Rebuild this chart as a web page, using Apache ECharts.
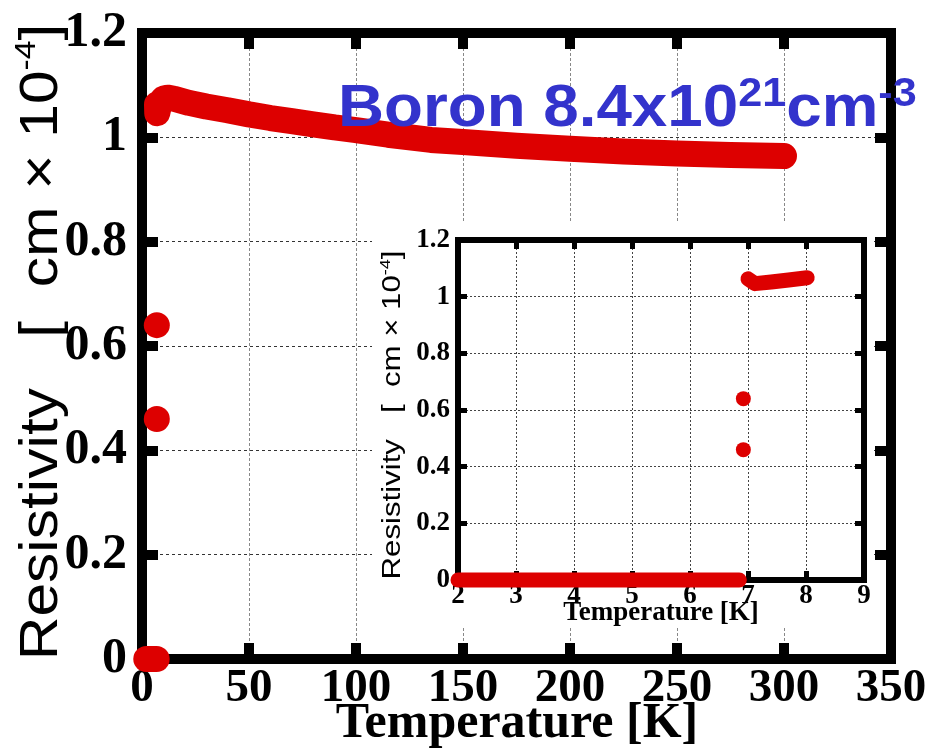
<!DOCTYPE html>
<html>
<head>
<meta charset="utf-8">
<script src="https://cdn.jsdelivr.net/npm/echarts@6/dist/echarts.min.js"></script>
<style>
  html, body { margin: 0; padding: 0; background: #fff; }
  #chart { width: 930px; height: 755px; }
</style>
</head>
<body>
<div id="chart"></div>
<script>
// Resistivity of a boron-doped sample vs temperature (units of 1e-4 ohm cm)

// superconducting state: zero resistance
const zeroT = [2.0, 3.0, 4.0, 5.0, 6.0, 6.85];
const zeroRho = [0, 0, 0, 0, 0, 0];

// points caught inside the transition
const transT = [6.92, 6.92];
const transRho = [0.46, 0.64];

// normal state, full warm-up sweep
const normalT = [7.0, 7.12, 7.6, 8.5, 10, 12, 15, 22, 30, 40, 50, 60, 70, 80, 90, 100,
                 115, 135, 150, 175, 200, 225, 250, 275, 300];
const normalRho = [1.063, 1.046, 1.055, 1.066, 1.074, 1.076, 1.074, 1.066, 1.059, 1.052,
                   1.044, 1.037, 1.031, 1.025, 1.019, 1.014, 1.005, 0.995, 0.991, 0.984,
                   0.978, 0.973, 0.969, 0.966, 0.964];

// normal state, low-temperature sweep shown in the inset
const lowT = [7.0, 7.12, 7.4, 7.7, 8.02];
const lowRho = [1.063, 1.046, 1.052, 1.059, 1.067];

// axis ranges and ticks
const mainX = { min: 0, max: 350, interval: 50 };
const insetX = { min: 2, max: 9, interval: 1 };
const rhoAxis = { min: 0, max: 1.2, interval: 0.2 };

const RED = '#dd0000';
const SERIF = '"Liberation Serif", "Times New Roman", serif';
const SANS = '"Liberation Sans", Arial, sans-serif';

const pairs = (xs, ys) => xs.map((x, i) => [x, ys[i]]);
const rhoFmt = v => String(+v.toFixed(1));

// one frame side: thick line plus inward ticks, labels added where needed
function axis(range, o) {
  return Object.assign({
    type: 'value',
    min: range.min, max: range.max, interval: range.interval,
    axisLine: { show: true, onZero: false, lineStyle: { color: '#000', width: o.lineWidth, cap: 'square' } },
    axisTick: { show: true, inside: true, length: o.tickLen, lineStyle: { color: '#000', width: o.tickWidth } },
    axisLabel: { show: false },
    splitLine: { show: false }
  }, o.extra || {});
}

const chart = echarts.init(document.getElementById('chart'), null, { renderer: 'canvas' });

const mainStyle = { lineWidth: 10, tickLen: 16, tickWidth: 10 };
const insetStyle = { lineWidth: 6, tickLen: 9, tickWidth: 5 };
const labelBase = { show: true, fontFamily: SERIF, fontWeight: 'bold', color: '#000' };

chart.setOption({
  animation: false,
  backgroundColor: '#fff',
  grid: [
    { left: 142, right: 39, top: 33, bottom: 96, show: false, containLabel: false, outerBoundsMode: 'none' },
    { left: 458, right: 66, top: 240, bottom: 175, show: true, borderWidth: 0,
      backgroundColor: '#fff', containLabel: false, outerBoundsMode: 'none', z: 3 }
  ],
  xAxis: [
    axis(mainX, Object.assign({ extra: {
      gridIndex: 0, position: 'bottom',
      axisLabel: Object.assign({ margin: 6, fontSize: 47 }, labelBase),
      splitLine: { show: true, lineStyle: { color: '#888', width: 1, type: [3, 2] } }
    } }, mainStyle)),
    axis(mainX, Object.assign({ extra: { gridIndex: 0, position: 'top' } }, mainStyle)),
    axis(insetX, Object.assign({ extra: {
      gridIndex: 1, position: 'bottom', z: 4,
      axisLabel: Object.assign({ margin: 3, fontSize: 27 }, labelBase),
      splitLine: { show: true, lineStyle: { color: '#444', width: 1, type: [2, 2] } }
    } }, insetStyle)),
    axis(insetX, Object.assign({ extra: { gridIndex: 1, position: 'top', z: 4 } }, insetStyle))
  ],
  yAxis: [
    axis(rhoAxis, Object.assign({ extra: {
      gridIndex: 0, position: 'left',
      axisLabel: Object.assign({ margin: 15, fontSize: 50, formatter: rhoFmt }, labelBase),
      splitLine: { show: true, lineStyle: { color: '#333', width: 1, type: [3, 3] } }
    } }, mainStyle)),
    axis(rhoAxis, Object.assign({ extra: { gridIndex: 0, position: 'right' } }, mainStyle)),
    axis(rhoAxis, Object.assign({ extra: {
      gridIndex: 1, position: 'left', z: 4,
      axisLabel: Object.assign({ margin: 8, fontSize: 27, formatter: rhoFmt }, labelBase),
      splitLine: { show: true, lineStyle: { color: '#444', width: 1, type: [2, 2] } }
    } }, insetStyle)),
    axis(rhoAxis, Object.assign({ extra: { gridIndex: 1, position: 'right', z: 4 } }, insetStyle))
  ],
  series: [
    // full range
    { type: 'line', xAxisIndex: 0, yAxisIndex: 0, data: pairs(zeroT, zeroRho), showSymbol: false, symbol: 'none',
      clip: false, z: 2, lineStyle: { color: RED, width: 26, cap: 'round', join: 'round' } },
    { type: 'scatter', xAxisIndex: 0, yAxisIndex: 0, data: pairs(transT, transRho), symbolSize: 26,
      clip: false, z: 2, itemStyle: { color: RED, opacity: 1 } },
    { type: 'line', xAxisIndex: 0, yAxisIndex: 0, data: pairs(normalT, normalRho), showSymbol: false, symbol: 'none',
      clip: false, z: 2, lineStyle: { color: RED, width: 26, cap: 'round', join: 'round' } },
    // inset, low temperature
    { type: 'line', xAxisIndex: 2, yAxisIndex: 2, data: pairs(zeroT, zeroRho), showSymbol: false, symbol: 'none',
      clip: false, z: 6, lineStyle: { color: RED, width: 15, cap: 'round', join: 'round' } },
    { type: 'scatter', xAxisIndex: 2, yAxisIndex: 2, data: pairs(transT, transRho), symbolSize: 15,
      clip: false, z: 6, itemStyle: { color: RED, opacity: 1 } },
    { type: 'line', xAxisIndex: 2, yAxisIndex: 2, data: pairs(lowT, lowRho), showSymbol: false, symbol: 'none',
      clip: false, z: 6, lineStyle: { color: RED, width: 15, cap: 'round', join: 'round' } }
  ],
  graphic: [
    // white panel behind the inset and its labels
    { type: 'rect', z: 1, silent: true, shape: { x: 372, y: 222, width: 500, height: 406 },
      style: { fill: '#fff' } },
    // main axis titles
    { type: 'text', z: 10, x: 517, y: 724,
      style: { text: 'Temperature [K]', font: 'bold 50px ' + SERIF, fill: '#000', align: 'center', verticalAlign: 'middle' } },
    { type: 'text', z: 10, x: 42, y: 342, rotation: Math.PI / 2, scaleX: 1.12,
      style: {
        text: '{a|Resistivity   [  cm × 10}{s|-4}{a|]}',
        align: 'center', verticalAlign: 'middle', fill: '#000',
        rich: {
          a: { fontFamily: SANS, fontSize: 54, lineHeight: 60, fill: '#000' },
          s: { fontFamily: SANS, fontSize: 30, lineHeight: 60, verticalAlign: 'top', fill: '#000' }
        }
      } },
    // inset axis titles
    { type: 'text', z: 10, x: 661, y: 613,
      style: { text: 'Temperature [K]', font: 'bold 27px ' + SERIF, fill: '#000', align: 'center', verticalAlign: 'middle' } },
    { type: 'text', z: 10, x: 393, y: 415, rotation: Math.PI / 2, scaleX: 1.2,
      style: {
        text: '{a|Resistivity   [  cm × 10}{s|-4}{a|]}',
        align: 'center', verticalAlign: 'middle', fill: '#000',
        rich: {
          a: { fontFamily: SANS, fontSize: 26, lineHeight: 30, fill: '#000' },
          s: { fontFamily: SANS, fontSize: 15, lineHeight: 30, verticalAlign: 'top', fill: '#000' }
        }
      } },
    // sample label
    { type: 'text', z: 10, x: 338, y: 110, scaleX: 1.08,
      style: {
        text: '{b|Boron 8.4x10}{s|21}{b|cm}{s|-3}',
        align: 'left', verticalAlign: 'middle', fill: '#3333cc',
        rich: {
          b: { fontFamily: SANS, fontWeight: 'bold', fontSize: 59, lineHeight: 70, fill: '#3333cc' },
          s: { fontFamily: SANS, fontWeight: 'bold', fontSize: 40, lineHeight: 70, verticalAlign: 'top', fill: '#3333cc' }
        }
      } }
  ]
});
</script>
</body>
</html>
